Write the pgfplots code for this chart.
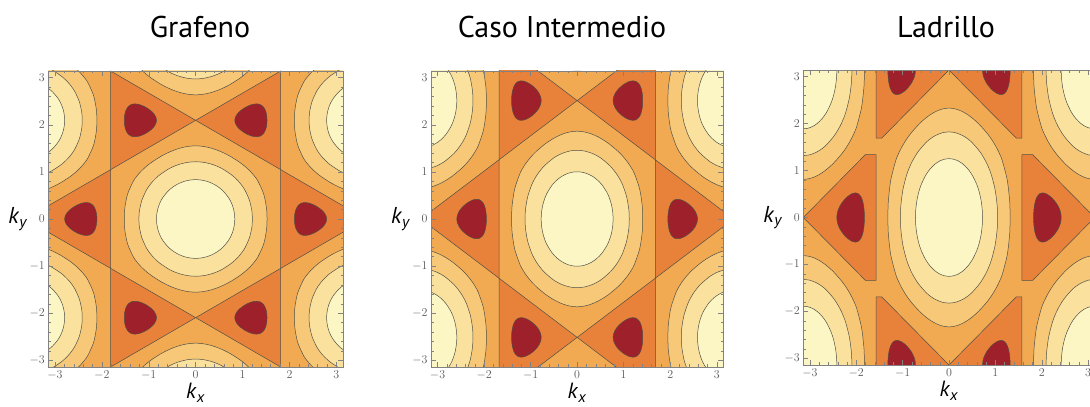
\documentclass[border=0pt]{standalone}
\usepackage{pgfplots}
\pgfplotsset{compat=1.18}
\usepackage{fontspec}
\setmainfont{PT Sans}
\definecolor{c0}{RGB}{158,32,42}
\definecolor{c1}{RGB}{232,130,58}
\definecolor{c2}{RGB}{242,170,82}
\definecolor{c3}{RGB}{247,200,120}
\definecolor{c4}{RGB}{250,226,158}
\definecolor{c5}{RGB}{251,246,196}
\definecolor{cline}{RGB}{80,80,70}
\definecolor{framec}{RGB}{130,130,130}
\definecolor{tlc}{RGB}{90,90,90}
\pgfplotsset{
 panel/.style={
  scale only axis, height=296pt,
  xmin=-3.1416, xmax=3.1416, ymin=-3.1416, ymax=3.1416,
  axis on top,
  axis background/.style={fill=c2},
  xtick={-3,-2,-1,0,1,2,3}, ytick={-3,-2,-1,0,1,2,3},
  minor tick num=4,
  major tick length=5pt, minor tick length=2.5pt,
  tick style={color=framec, line width=0.4pt},
  axis line style={color=framec, line width=0.6pt},
  ticklabel style={font=\fontsize{12}{12}\selectfont, text=tlc},
  every axis x label/.style={at={(axis description cs:0.5,0)}, anchor=north, yshift=-13pt, font=\fontsize{22}{22}\selectfont},
  every axis y label/.style={at={(axis description cs:0,0.5)}, anchor=east, xshift=-17pt, font=\fontsize{23}{23}\selectfont},
  xlabel={\textit{k}\textsubscript{\textit{x}}},
  ylabel={\textit{k}\textsubscript{\textit{y}}},
 },
 ctri/.style={draw=cline, line width=0.5pt, fill=c1},
 cblob/.style={draw=cline, line width=0.5pt, fill=c0, smooth, tension=0.5},
 clv3/.style={draw=cline, line width=0.5pt, fill=c3, smooth, tension=0.5},
 clv4/.style={draw=cline, line width=0.5pt, fill=c4, smooth, tension=0.5},
 clv5/.style={draw=cline, line width=0.5pt, fill=c5, smooth, tension=0.5},
}
% |f| < 1 : triangles (reduced coordinates u = a kx, v = (1+b) ky)
\newcommand{\trisA}{%
 \addplot[ctri] coordinates {(1.5708,1.5708) (3.1416,0) (1.5708,-1.5708) (1.5708,1.5708)};
 \addplot[ctri] coordinates {(-1.5708,1.5708) (-3.1416,0) (-1.5708,-1.5708) (-1.5708,1.5708)};
 \addplot[ctri] coordinates {(0,3.1416) (1.5708,1.5708) (1.5708,4.7124) (0,3.1416)};
 \addplot[ctri] coordinates {(0,3.1416) (-1.5708,1.5708) (-1.5708,4.7124) (0,3.1416)};
 \addplot[ctri] coordinates {(0,-3.1416) (1.5708,-1.5708) (1.5708,-4.7124) (0,-3.1416)};
 \addplot[ctri] coordinates {(0,-3.1416) (-1.5708,-1.5708) (-1.5708,-4.7124) (0,-3.1416)};
}
\newcommand{\trisB}{%
 \addplot[ctri] coordinates {(1.5708,1.34) (1.8016,1.34) (3.1416,0) (1.8016,-1.34) (1.5708,-1.34) (1.5708,1.34)};
 \addplot[ctri] coordinates {(-1.5708,1.34) (-1.8016,1.34) (-3.1416,0) (-1.8016,-1.34) (-1.5708,-1.34) (-1.5708,1.34)};
 \addplot[ctri] coordinates {(0,3.1416) (1.4516,1.69) (1.5708,1.69) (1.5708,4.7124) (0,3.1416)};
 \addplot[ctri] coordinates {(0,3.1416) (-1.4516,1.69) (-1.5708,1.69) (-1.5708,4.7124) (0,3.1416)};
 \addplot[ctri] coordinates {(0,-3.1416) (1.4516,-1.69) (1.5708,-1.69) (1.5708,-4.7124) (0,-3.1416)};
 \addplot[ctri] coordinates {(0,-3.1416) (-1.4516,-1.69) (-1.5708,-1.69) (-1.5708,-4.7124) (0,-3.1416)};
}
% |f| < 0.5 : blobs
\newcommand{\blobs}{%
 \addplot[cblob] coordinates {(2.4189,0) (2.4075,0.1) (2.3738,0.2) (2.3176,0.3) (2.2361,0.4) (2.1816,0.45) (2.1057,0.5) (2.0692,0.515) (2.0186,0.5236) (1.9737,0.515) (1.9474,0.5) (1.9039,0.45) (1.8794,0.4) (1.8505,0.3) (1.8345,0.2) (1.8261,0.1) (1.8235,0) (1.8261,-0.1) (1.8345,-0.2) (1.8505,-0.3) (1.8794,-0.4) (1.9039,-0.45) (1.9474,-0.5) (1.9737,-0.515) (2.0186,-0.5236) (2.0692,-0.515) (2.1057,-0.5) (2.1816,-0.45) (2.2361,-0.4) (2.3176,-0.3) (2.3738,-0.2) (2.4075,-0.1) (2.4189,0)};
 \addplot[cblob] coordinates {(-2.4189,0) (-2.4075,0.1) (-2.3738,0.2) (-2.3176,0.3) (-2.2361,0.4) (-2.1816,0.45) (-2.1057,0.5) (-2.0692,0.515) (-2.0186,0.5236) (-1.9737,0.515) (-1.9474,0.5) (-1.9039,0.45) (-1.8794,0.4) (-1.8505,0.3) (-1.8345,0.2) (-1.8261,0.1) (-1.8235,0) (-1.8261,-0.1) (-1.8345,-0.2) (-1.8505,-0.3) (-1.8794,-0.4) (-1.9039,-0.45) (-1.9474,-0.5) (-1.9737,-0.515) (-2.0186,-0.5236) (-2.0692,-0.515) (-2.1057,-0.5) (-2.1816,-0.45) (-2.2361,-0.4) (-2.3176,-0.3) (-2.3738,-0.2) (-2.4075,-0.1) (-2.4189,0)};
 \addplot[cblob] coordinates {(0.7227,3.1416) (0.7341,3.2416) (0.7678,3.3416) (0.8240,3.4416) (0.9055,3.5416) (0.9600,3.5916) (1.0359,3.6416) (1.0724,3.6566) (1.1230,3.6652) (1.1679,3.6566) (1.1942,3.6416) (1.2377,3.5916) (1.2622,3.5416) (1.2911,3.4416) (1.3071,3.3416) (1.3155,3.2416) (1.3181,3.1416) (1.3155,3.0416) (1.3071,2.9416) (1.2911,2.8416) (1.2622,2.7416) (1.2377,2.6916) (1.1942,2.6416) (1.1679,2.6266) (1.1230,2.6180) (1.0724,2.6266) (1.0359,2.6416) (0.9600,2.6916) (0.9055,2.7416) (0.8240,2.8416) (0.7678,2.9416) (0.7341,3.0416) (0.7227,3.1416)};
 \addplot[cblob] coordinates {(-0.7227,3.1416) (-0.7341,3.2416) (-0.7678,3.3416) (-0.8240,3.4416) (-0.9055,3.5416) (-0.9600,3.5916) (-1.0359,3.6416) (-1.0724,3.6566) (-1.1230,3.6652) (-1.1679,3.6566) (-1.1942,3.6416) (-1.2377,3.5916) (-1.2622,3.5416) (-1.2911,3.4416) (-1.3071,3.3416) (-1.3155,3.2416) (-1.3181,3.1416) (-1.3155,3.0416) (-1.3071,2.9416) (-1.2911,2.8416) (-1.2622,2.7416) (-1.2377,2.6916) (-1.1942,2.6416) (-1.1679,2.6266) (-1.1230,2.6180) (-1.0724,2.6266) (-1.0359,2.6416) (-0.9600,2.6916) (-0.9055,2.7416) (-0.8240,2.8416) (-0.7678,2.9416) (-0.7341,3.0416) (-0.7227,3.1416)};
 \addplot[cblob] coordinates {(0.7227,-3.1416) (0.7341,-3.2416) (0.7678,-3.3416) (0.8240,-3.4416) (0.9055,-3.5416) (0.9600,-3.5916) (1.0359,-3.6416) (1.0724,-3.6566) (1.1230,-3.6652) (1.1679,-3.6566) (1.1942,-3.6416) (1.2377,-3.5916) (1.2622,-3.5416) (1.2911,-3.4416) (1.3071,-3.3416) (1.3155,-3.2416) (1.3181,-3.1416) (1.3155,-3.0416) (1.3071,-2.9416) (1.2911,-2.8416) (1.2622,-2.7416) (1.2377,-2.6916) (1.1942,-2.6416) (1.1679,-2.6266) (1.1230,-2.6180) (1.0724,-2.6266) (1.0359,-2.6416) (0.9600,-2.6916) (0.9055,-2.7416) (0.8240,-2.8416) (0.7678,-2.9416) (0.7341,-3.0416) (0.7227,-3.1416)};
 \addplot[cblob] coordinates {(-0.7227,-3.1416) (-0.7341,-3.2416) (-0.7678,-3.3416) (-0.8240,-3.4416) (-0.9055,-3.5416) (-0.9600,-3.5916) (-1.0359,-3.6416) (-1.0724,-3.6566) (-1.1230,-3.6652) (-1.1679,-3.6566) (-1.1942,-3.6416) (-1.2377,-3.5916) (-1.2622,-3.5416) (-1.2911,-3.4416) (-1.3071,-3.3416) (-1.3155,-3.2416) (-1.3181,-3.1416) (-1.3155,-3.0416) (-1.3071,-2.9416) (-1.2911,-2.8416) (-1.2622,-2.7416) (-1.2377,-2.6916) (-1.1942,-2.6416) (-1.1679,-2.6266) (-1.1230,-2.6180) (-1.0724,-2.6266) (-1.0359,-2.6416) (-0.9600,-2.6916) (-0.9055,-2.7416) (-0.8240,-2.8416) (-0.7678,-2.9416) (-0.7341,-3.0416) (-0.7227,-3.1416)};
}
% |f| > 1.5, > 2, > 2.5 around the maxima
\newcommand{\levels}{%
 \addplot[clv3] coordinates {(1.3181,0) (1.3147,0.2) (1.3039,0.4) (1.2553,0.8) (1.1522,1.2) (1.0927,1.35) (1.0184,1.5) (0.9273,1.65) (0.8175,1.8) (0.636,2.0) (0.5,2.1192) (0.4,2.1917) (0.3,2.2501) (0.2,2.2932) (0.1,2.3198) (0,2.3295) (-0.1,2.3198) (-0.2,2.2932) (-0.3,2.2501) (-0.4,2.1917) (-0.5,2.1192) (-0.636,2.0) (-0.8175,1.8) (-0.9273,1.65) (-1.0184,1.5) (-1.0927,1.35) (-1.1522,1.2) (-1.2553,0.8) (-1.3039,0.4) (-1.3147,0.2) (-1.3181,0) (-1.3147,-0.2) (-1.3039,-0.4) (-1.2553,-0.8) (-1.1522,-1.2) (-1.0927,-1.35) (-1.0184,-1.5) (-0.9273,-1.65) (-0.8175,-1.8) (-0.636,-2.0) (-0.5,-2.1192) (-0.4,-2.1917) (-0.3,-2.2501) (-0.2,-2.2932) (-0.1,-2.3198) (0,-2.3295) (0.1,-2.3198) (0.2,-2.2932) (0.3,-2.2501) (0.4,-2.1917) (0.5,-2.1192) (0.636,-2.0) (0.8175,-1.8) (0.9273,-1.65) (1.0184,-1.5) (1.0927,-1.35) (1.1522,-1.2) (1.2553,-0.8) (1.3039,-0.4) (1.3147,-0.2) (1.3181,0)};
 \addplot[clv3] coordinates {(3.1416,5.4711) (3.0416,5.4614) (2.9416,5.4348) (2.8416,5.3917) (2.7416,5.3333) (2.6416,5.2608) (2.5056,5.1416) (2.3241,4.9416) (2.2143,4.7916) (2.1232,4.6416) (2.0489,4.4916) (1.9894,4.3416) (1.8863,3.9416) (1.8377,3.5416) (1.8269,3.3416) (1.8235,3.1416) (1.8269,2.9416) (1.8377,2.7416) (1.8863,2.3416) (1.9894,1.9416) (2.0489,1.7916) (2.1232,1.6416) (2.2143,1.4916) (2.3241,1.3416) (2.5056,1.1416) (2.6416,1.0224) (2.7416,0.9499) (2.8416,0.8915) (2.9416,0.8484) (3.0416,0.8218) (3.1416,0.8121)};
 \addplot[clv3] coordinates {(3.1416,-5.4711) (3.0416,-5.4614) (2.9416,-5.4348) (2.8416,-5.3917) (2.7416,-5.3333) (2.6416,-5.2608) (2.5056,-5.1416) (2.3241,-4.9416) (2.2143,-4.7916) (2.1232,-4.6416) (2.0489,-4.4916) (1.9894,-4.3416) (1.8863,-3.9416) (1.8377,-3.5416) (1.8269,-3.3416) (1.8235,-3.1416) (1.8269,-2.9416) (1.8377,-2.7416) (1.8863,-2.3416) (1.9894,-1.9416) (2.0489,-1.7916) (2.1232,-1.6416) (2.2143,-1.4916) (2.3241,-1.3416) (2.5056,-1.1416) (2.6416,-1.0224) (2.7416,-0.9499) (2.8416,-0.8915) (2.9416,-0.8484) (3.0416,-0.8218) (3.1416,-0.8121)};
 \addplot[clv3] coordinates {(-3.1416,5.4711) (-3.0416,5.4614) (-2.9416,5.4348) (-2.8416,5.3917) (-2.7416,5.3333) (-2.6416,5.2608) (-2.5056,5.1416) (-2.3241,4.9416) (-2.2143,4.7916) (-2.1232,4.6416) (-2.0489,4.4916) (-1.9894,4.3416) (-1.8863,3.9416) (-1.8377,3.5416) (-1.8269,3.3416) (-1.8235,3.1416) (-1.8269,2.9416) (-1.8377,2.7416) (-1.8863,2.3416) (-1.9894,1.9416) (-2.0489,1.7916) (-2.1232,1.6416) (-2.2143,1.4916) (-2.3241,1.3416) (-2.5056,1.1416) (-2.6416,1.0224) (-2.7416,0.9499) (-2.8416,0.8915) (-2.9416,0.8484) (-3.0416,0.8218) (-3.1416,0.8121)};
 \addplot[clv3] coordinates {(-3.1416,-5.4711) (-3.0416,-5.4614) (-2.9416,-5.4348) (-2.8416,-5.3917) (-2.7416,-5.3333) (-2.6416,-5.2608) (-2.5056,-5.1416) (-2.3241,-4.9416) (-2.2143,-4.7916) (-2.1232,-4.6416) (-2.0489,-4.4916) (-1.9894,-4.3416) (-1.8863,-3.9416) (-1.8377,-3.5416) (-1.8269,-3.3416) (-1.8235,-3.1416) (-1.8269,-2.9416) (-1.8377,-2.7416) (-1.8863,-2.3416) (-1.9894,-1.9416) (-2.0489,-1.7916) (-2.1232,-1.6416) (-2.2143,-1.4916) (-2.3241,-1.3416) (-2.5056,-1.1416) (-2.6416,-1.0224) (-2.7416,-0.9499) (-2.8416,-0.8915) (-2.9416,-0.8484) (-3.0416,-0.8218) (-3.1416,-0.8121)};
 \addplot[clv3] coordinates {(-1.1522,5.0832) (-1.0927,4.9332) (-1.0184,4.7832) (-0.9273,4.6332) (-0.8175,4.4832) (-0.636,4.2832) (-0.5,4.164) (-0.4,4.0915) (-0.3,4.0331) (-0.2,3.99) (-0.1,3.9634) (0,3.9537) (0.1,3.9634) (0.2,3.99) (0.3,4.0331) (0.4,4.0915) (0.5,4.164) (0.636,4.2832) (0.8175,4.4832) (0.9273,4.6332) (1.0184,4.7832) (1.0927,4.9332) (1.1522,5.0832)};
 \addplot[clv3] coordinates {(-1.1522,-5.0832) (-1.0927,-4.9332) (-1.0184,-4.7832) (-0.9273,-4.6332) (-0.8175,-4.4832) (-0.636,-4.2832) (-0.5,-4.164) (-0.4,-4.0915) (-0.3,-4.0331) (-0.2,-3.99) (-0.1,-3.9634) (0,-3.9537) (0.1,-3.9634) (0.2,-3.99) (0.3,-4.0331) (0.4,-4.0915) (0.5,-4.164) (0.636,-4.2832) (0.8175,-4.4832) (0.9273,-4.6332) (1.0184,-4.7832) (1.0927,-4.9332) (1.1522,-5.0832)};
 %
 \addplot[clv4] coordinates {(1.0472,0) (1.0439,0.15) (1.0341,0.3) (0.9924,0.6) (0.9157,0.9) (0.8602,1.05) (0.7904,1.2) (0.6678,1.4) (0.4934,1.6) (0.4,1.6778) (0.3,1.7419) (0.15,1.8032) (0,1.8235) (-0.15,1.8032) (-0.3,1.7419) (-0.4,1.6778) (-0.4934,1.6) (-0.6678,1.4) (-0.7904,1.2) (-0.8602,1.05) (-0.9157,0.9) (-0.9924,0.6) (-1.0341,0.3) (-1.0439,0.15) (-1.0472,0) (-1.0439,-0.15) (-1.0341,-0.3) (-0.9924,-0.6) (-0.9157,-0.9) (-0.8602,-1.05) (-0.7904,-1.2) (-0.6678,-1.4) (-0.4934,-1.6) (-0.4,-1.6778) (-0.3,-1.7419) (-0.15,-1.8032) (0,-1.8235) (0.15,-1.8032) (0.3,-1.7419) (0.4,-1.6778) (0.4934,-1.6) (0.6678,-1.4) (0.7904,-1.2) (0.8602,-1.05) (0.9157,-0.9) (0.9924,-0.6) (1.0341,-0.3) (1.0439,-0.15) (1.0472,0)};
 \addplot[clv4] coordinates {(3.1416,4.9651) (2.9916,4.9448) (2.8416,4.8835) (2.7416,4.8194) (2.6482,4.7416) (2.4738,4.5416) (2.3512,4.3416) (2.2814,4.1916) (2.2259,4.0416) (2.1492,3.7416) (2.1075,3.4416) (2.0977,3.2916) (2.0944,3.1416) (2.0977,2.9916) (2.1075,2.8416) (2.1492,2.5416) (2.2259,2.2416) (2.2814,2.0916) (2.3512,1.9416) (2.4738,1.7416) (2.6482,1.5416) (2.7416,1.4638) (2.8416,1.3997) (2.9916,1.3384) (3.1416,1.3181)};
 \addplot[clv4] coordinates {(3.1416,-4.9651) (2.9916,-4.9448) (2.8416,-4.8835) (2.7416,-4.8194) (2.6482,-4.7416) (2.4738,-4.5416) (2.3512,-4.3416) (2.2814,-4.1916) (2.2259,-4.0416) (2.1492,-3.7416) (2.1075,-3.4416) (2.0977,-3.2916) (2.0944,-3.1416) (2.0977,-2.9916) (2.1075,-2.8416) (2.1492,-2.5416) (2.2259,-2.2416) (2.2814,-2.0916) (2.3512,-1.9416) (2.4738,-1.7416) (2.6482,-1.5416) (2.7416,-1.4638) (2.8416,-1.3997) (2.9916,-1.3384) (3.1416,-1.3181)};
 \addplot[clv4] coordinates {(-3.1416,4.9651) (-2.9916,4.9448) (-2.8416,4.8835) (-2.7416,4.8194) (-2.6482,4.7416) (-2.4738,4.5416) (-2.3512,4.3416) (-2.2814,4.1916) (-2.2259,4.0416) (-2.1492,3.7416) (-2.1075,3.4416) (-2.0977,3.2916) (-2.0944,3.1416) (-2.0977,2.9916) (-2.1075,2.8416) (-2.1492,2.5416) (-2.2259,2.2416) (-2.2814,2.0916) (-2.3512,1.9416) (-2.4738,1.7416) (-2.6482,1.5416) (-2.7416,1.4638) (-2.8416,1.3997) (-2.9916,1.3384) (-3.1416,1.3181)};
 \addplot[clv4] coordinates {(-3.1416,-4.9651) (-2.9916,-4.9448) (-2.8416,-4.8835) (-2.7416,-4.8194) (-2.6482,-4.7416) (-2.4738,-4.5416) (-2.3512,-4.3416) (-2.2814,-4.1916) (-2.2259,-4.0416) (-2.1492,-3.7416) (-2.1075,-3.4416) (-2.0977,-3.2916) (-2.0944,-3.1416) (-2.0977,-2.9916) (-2.1075,-2.8416) (-2.1492,-2.5416) (-2.2259,-2.2416) (-2.2814,-2.0916) (-2.3512,-1.9416) (-2.4738,-1.7416) (-2.6482,-1.5416) (-2.7416,-1.4638) (-2.8416,-1.3997) (-2.9916,-1.3384) (-3.1416,-1.3181)};
 \addplot[clv4] coordinates {(-0.8602,5.2332) (-0.7904,5.0832) (-0.6678,4.8832) (-0.4934,4.6832) (-0.4,4.6054) (-0.3,4.5413) (-0.15,4.48) (0,4.4597) (0.15,4.48) (0.3,4.5413) (0.4,4.6054) (0.4934,4.6832) (0.6678,4.8832) (0.7904,5.0832) (0.8602,5.2332)};
 \addplot[clv4] coordinates {(-0.8602,-5.2332) (-0.7904,-5.0832) (-0.6678,-4.8832) (-0.4934,-4.6832) (-0.4,-4.6054) (-0.3,-4.5413) (-0.15,-4.48) (0,-4.4597) (0.15,-4.48) (0.3,-4.5413) (0.4,-4.6054) (0.4934,-4.6832) (0.6678,-4.8832) (0.7904,-5.0832) (0.8602,-5.2332)};
 %
 \addplot[clv5] coordinates {(0.7227,0) (0.7176,0.15) (0.7,0.3136) (0.675,0.45) (0.65,0.5509) (0.6,0.6999) (0.5,0.9046) (0.4,1.0424) (0.3,1.1388) (0.2,1.2035) (0.1,1.2407) (0,1.253) (-0.1,1.2407) (-0.2,1.2035) (-0.3,1.1388) (-0.4,1.0424) (-0.5,0.9046) (-0.6,0.6999) (-0.65,0.5509) (-0.675,0.45) (-0.7,0.3136) (-0.7176,0.15) (-0.7227,0) (-0.7176,-0.15) (-0.7,-0.3136) (-0.675,-0.45) (-0.65,-0.5509) (-0.6,-0.6999) (-0.5,-0.9046) (-0.4,-1.0424) (-0.3,-1.1388) (-0.2,-1.2035) (-0.1,-1.2407) (0,-1.253) (0.1,-1.2407) (0.2,-1.2035) (0.3,-1.1388) (0.4,-1.0424) (0.5,-0.9046) (0.6,-0.6999) (0.65,-0.5509) (0.675,-0.45) (0.7,-0.3136) (0.7176,-0.15) (0.7227,0)};
 \addplot[clv5] coordinates {(3.1416,4.3946) (3.0416,4.3823) (2.9416,4.3451) (2.8416,4.2804) (2.7416,4.1840) (2.6416,4.0462) (2.5416,3.8415) (2.4916,3.6925) (2.4666,3.5916) (2.4416,3.4552) (2.4240,3.2916) (2.4189,3.1416) (2.4240,2.9916) (2.4416,2.8280) (2.4666,2.6916) (2.4916,2.5907) (2.5416,2.4417) (2.6416,2.2370) (2.7416,2.0992) (2.8416,2.0028) (2.9416,1.9381) (3.0416,1.9009) (3.1416,1.8886)};
 \addplot[clv5] coordinates {(3.1416,-4.3946) (3.0416,-4.3823) (2.9416,-4.3451) (2.8416,-4.2804) (2.7416,-4.1840) (2.6416,-4.0462) (2.5416,-3.8415) (2.4916,-3.6925) (2.4666,-3.5916) (2.4416,-3.4552) (2.4240,-3.2916) (2.4189,-3.1416) (2.4240,-2.9916) (2.4416,-2.8280) (2.4666,-2.6916) (2.4916,-2.5907) (2.5416,-2.4417) (2.6416,-2.2370) (2.7416,-2.0992) (2.8416,-2.0028) (2.9416,-1.9381) (3.0416,-1.9009) (3.1416,-1.8886)};
 \addplot[clv5] coordinates {(-3.1416,4.3946) (-3.0416,4.3823) (-2.9416,4.3451) (-2.8416,4.2804) (-2.7416,4.1840) (-2.6416,4.0462) (-2.5416,3.8415) (-2.4916,3.6925) (-2.4666,3.5916) (-2.4416,3.4552) (-2.4240,3.2916) (-2.4189,3.1416) (-2.4240,2.9916) (-2.4416,2.8280) (-2.4666,2.6916) (-2.4916,2.5907) (-2.5416,2.4417) (-2.6416,2.2370) (-2.7416,2.0992) (-2.8416,2.0028) (-2.9416,1.9381) (-3.0416,1.9009) (-3.1416,1.8886)};
 \addplot[clv5] coordinates {(-3.1416,-4.3946) (-3.0416,-4.3823) (-2.9416,-4.3451) (-2.8416,-4.2804) (-2.7416,-4.1840) (-2.6416,-4.0462) (-2.5416,-3.8415) (-2.4916,-3.6925) (-2.4666,-3.5916) (-2.4416,-3.4552) (-2.4240,-3.2916) (-2.4189,-3.1416) (-2.4240,-2.9916) (-2.4416,-2.8280) (-2.4666,-2.6916) (-2.4916,-2.5907) (-2.5416,-2.4417) (-2.6416,-2.2370) (-2.7416,-2.0992) (-2.8416,-2.0028) (-2.9416,-1.9381) (-3.0416,-1.9009) (-3.1416,-1.8886)};
}
\begin{document}
\begin{tikzpicture}
\path[use as bounding box] (0,0) rectangle (1090pt,407pt);
\begin{axis}[panel, at={(48.3pt,40pt)}, anchor=south west, width=294.7pt,
  x filter/.expression={x/0.8660}, y filter/.expression={y/1.5}]
 \trisA \blobs \levels
\end{axis}
\begin{axis}[panel, at={(431pt,40pt)}, anchor=south west, width=292.3pt,
  x filter/.expression={x/0.935}, y filter/.expression={y/1.25}]
 \trisA \blobs \levels
\end{axis}
\begin{axis}[panel, at={(803.3pt,42pt)}, anchor=south west, width=291.4pt, height=295pt]
 \trisB \blobs \levels
\end{axis}
\node[anchor=base, font=\fontsize{30}{30}\selectfont] at (200pt,369pt) {Grafeno};
\node[anchor=base, font=\fontsize{30}{30}\selectfont] at (562pt,369pt) {Caso Intermedio};
\node[anchor=base, font=\fontsize{30}{30}\selectfont] at (946pt,369pt) {Ladrillo};
\end{tikzpicture}
\end{document}
